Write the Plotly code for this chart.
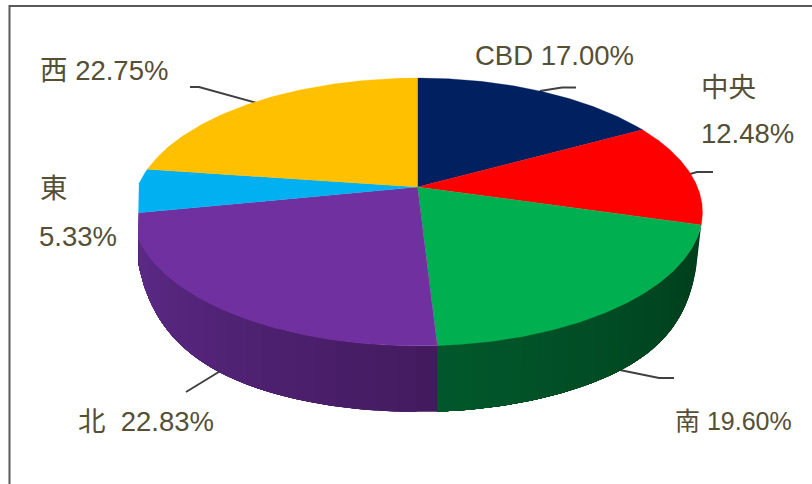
import numpy as np
import plotly.graph_objects as go

categories = ["CBD", "中央", "南", "北", "東", "西"]
values = [17.00, 12.48, 19.60, 22.83, 5.33, 22.75]
top_colors = ["#002060", "#FF0000", "#00B050", "#7030A0", "#00B0F0", "#FFC000"]
side_ramps = {"南": ("#01582B", "#003C1B"), "北": ("#431A5E", "#602C8E")}

W, H = 812, 484
CX, CY, A, B, K = 417.5, 187.0, 280.0, 129.3, 0.1866
CLIP_L, DEPTH = 138.5, 66.0
TEXT = "#554F36"
FONT = "Liberation Sans, Noto Sans CJK JP, sans-serif"


def rim(theta):
    u, v = np.sin(theta), np.cos(theta)
    w = 1 + K * v
    return np.maximum(CX + A * u / w, CLIP_L), CY - B * v / w


def depth(theta):
    u = np.sin(theta)
    right = np.clip(1 - (np.abs(u) / 0.985) ** 9, 0, 1)
    left = np.clip(1 - (np.abs(u) / 0.95) ** 6, 0, 1)
    return DEPTH * np.sqrt(np.where(u >= 0, right, left))


def mix(c1, c2, t):
    a = [int(c1[i:i + 2], 16) for i in (1, 3, 5)]
    b = [int(c2[i:i + 2], 16) for i in (1, 3, 5)]
    return "#%02x%02x%02x" % tuple(round(p + (q - p) * t) for p, q in zip(a, b))


total = sum(values)
edges = np.concatenate([[0], np.cumsum(values)]) / total * 2 * np.pi
fig = go.Figure()


def poly(x, y, color, lw=0.0):
    fig.add_trace(go.Scatter(
        x=x, y=y, mode="lines", fill="toself", fillcolor=color,
        line=dict(color=color, width=lw), hoverinfo="skip", showlegend=False))


# side wall: only the slices that face the viewer, painted so each band overlaps the next
for i, cat in enumerate(categories):
    if cat not in side_ramps:
        continue
    c_near, c_far = side_ramps[cat]
    a0, a1 = edges[i], edges[i + 1]
    stop = min(a1, np.pi * 1.5)
    n = 24
    grid = np.linspace(a0, stop, n + 1)
    for j in range(n):
        th = np.linspace(grid[j], stop, 80)
        x, y = rim(th)
        xb = CX + (x - CX) * 0.988 if cat == "南" else x
        yb = y + depth(th)
        t = (j + 0.5) / n
        color = mix(c_far, c_near, t) if cat == "南" else mix(c_near, c_far, t)
        poly(np.r_[x, xb[::-1], x[0]], np.r_[y, yb[::-1], y[0]], color)

# top face
for i, cat in enumerate(categories):
    th = np.linspace(edges[i], edges[i + 1], 120)
    x, y = rim(th)
    poly(np.r_[CX, x, CX], np.r_[CY, y, CY], top_colors[i], 0.3)

labels = {c: v for c, v in zip(categories, values)}
placed = [
    ("CBD {:.2f}%".format(labels["CBD"]), 473, 55, 27.5),
    ("中央", 699, 87, 27.5),
    ("{:.2f}%".format(labels["中央"]), 698.5, 133, 27.5),
    ("西 {:.2f}%".format(labels["西"]), 37.5, 70, 27.5),
    ("東", 37.5, 188, 27.5),
    ("{:.2f}%".format(labels["東"]), 36.5, 236, 27.5),
    ("北  {:.2f}%".format(labels["北"]), 76, 421, 27.5),
    ("南 {:.2f}%".format(labels["南"]), 673, 421, 25),
]
annotations = [
    dict(x=px, y=py, text=t, xref="x", yref="y", xanchor="left", yanchor="middle",
         showarrow=False, font=dict(family=FONT, size=fs, color=TEXT))
    for t, px, py, fs in placed
]

leaders = [
    "M190,87 L199,87 L257,103",
    "M540,91 L562,87.5 L576,87.5",
    "M690,174 L697,172 L713,172",
    "M615,369 L659,378 L674,378",
    "M186,392 L222,370",
]
shapes = [dict(type="path", path=p, line=dict(color="#404040", width=2), layer="below") for p in leaders]
shapes.append(dict(type="path", path="M9.5,484 L9.5,6 L812,6", line=dict(color="#595959", width=2), layer="below"))

fig.update_layout(
    width=W, height=H, autosize=False,
    margin=dict(l=0, r=0, t=0, b=0),
    paper_bgcolor="white", plot_bgcolor="white",
    xaxis=dict(range=[0, W], visible=False, fixedrange=True),
    yaxis=dict(range=[H, 0], visible=False, fixedrange=True),
    annotations=annotations, shapes=shapes, showlegend=False,
)
fig.write_html(
    "out.html", config={"displayModeBar": False},
    post_script="document.body.style.margin='0';document.body.style.overflow='hidden';",
)
